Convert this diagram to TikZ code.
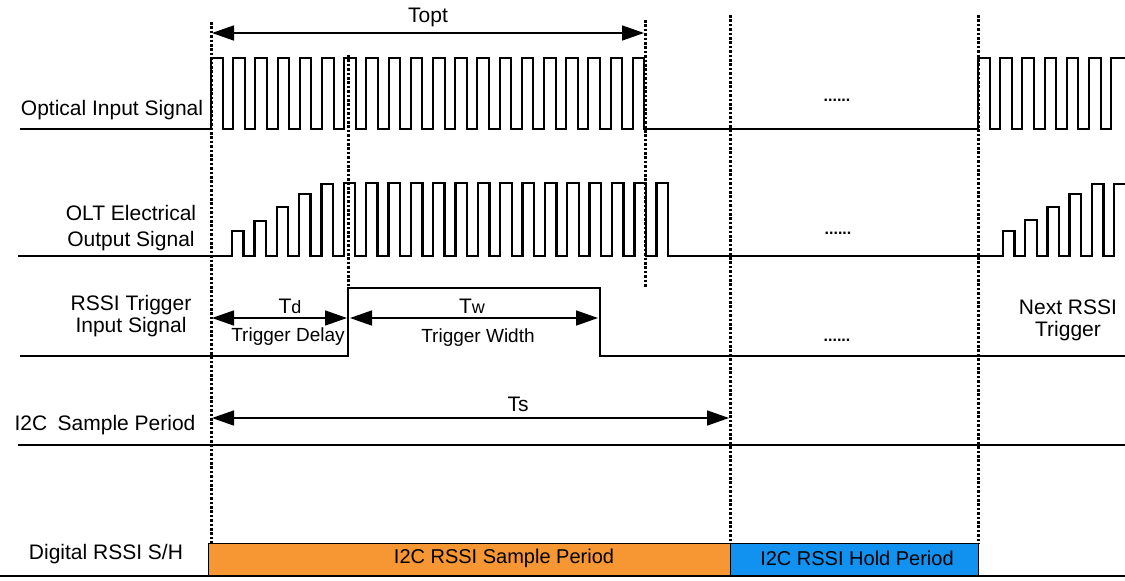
\documentclass[tikz,border=0pt]{standalone}
\usepackage{fontspec}
\setmainfont{Liberation Sans}
\usetikzlibrary{arrows.meta}
\definecolor{sampleorange}{RGB}{247,151,52}
\definecolor{holdblue}{RGB}{18,146,240}

\begin{document}
\begin{tikzpicture}[
  x=0.5pt, y=-0.5pt,
  font=\fontsize{10.5}{13}\selectfont,
  lbl/.style={align=center, inner sep=0pt},
  small/.style={font=\fontsize{9.5}{11}\selectfont},
  sig/.style={line width=1pt, line join=miter},
  rule/.style={line width=0.8pt},
  guide/.style={line width=1.5pt, dash pattern=on 1.3pt off 0.9pt},
  dim/.style={{Triangle[length=11pt,width=7.5pt]}-{Triangle[length=11pt,width=7.5pt]}, line width=0.8pt},
  bar/.style={draw, line width=0.6pt, minimum height=16pt, inner sep=0pt, anchor=south west},
  dots/.style={font=\fontsize{8}{8}\selectfont\bfseries, inner sep=0pt}
]
\useasboundingbox (0,0) rectangle (1125,580);

\draw[guide] (211,22) -- (211,544);
\draw[guide] (348,55) -- (348,288);
\draw[guide] (645,20) -- (645,288);
\draw[guide] (730,15) -- (730,544);
\draw[guide] (978,15) -- (978,544);

\draw[sig] (20,129) -- (211,129)
  \foreach \k in {0,...,19} {-- ({211+22.2*\k},129) -- ++(0,-71) -- ++(11.5,0) -- ++(0,71)}
  -- (978,129)
  \foreach \k in {0,...,5} {-- ({978+22.2*\k},129) -- ++(0,-71) -- ++(11.5,0) -- ++(0,71)}
  -- (1111,129) -- (1111,58) -- (1126,58);

\draw[sig, line width=1.2pt] (18,256) -- (232,256)
  \foreach \k/\h in {0/25,1/35,2/49,3/62,4/72} {-- ({232+22.35*\k},256) -- ++(0,-\h) -- ++(11.5,0) -- ++(0,\h)}
  \foreach \k in {5,...,19} {-- ({232+22.35*\k},256) -- ++(0,-73) -- ++(11.5,0) -- ++(0,73)}
  -- (1003,256)
  \foreach \k/\h in {0/25,1/36,2/49,3/62,4/72} {-- ({1003+22.2*\k},256) -- ++(0,-\h) -- ++(11.5,0) -- ++(0,\h)}
  -- (1114,256) -- (1114,184) -- (1126,184);

\draw[sig] (20,356) -- (348,356) -- (348,288) -- (600,288) -- (600,356) -- (1125,356);
\draw[rule] (18,445) -- (1125,445);
\draw[rule] (0,576) -- (1125,576);

\node[lbl] (optlbl) at (112,110) {Optical Input Signal};
\node[lbl] (oltlbl) at (131,228) {OLT Electrical\\Output Signal};
\node[lbl] (trglbl) at (131,316) {RSSI Trigger\\[-2pt]Input Signal};
\node[lbl] (i2clbl) at (105,425) {I2C\enspace Sample Period};
\node[lbl] (shlbl) at (106,554) {Digital RSSI S/H};
\node[lbl] (nextlbl) at (1068,320) {Next RSSI\\[-2pt]Trigger};

\node[dots] (optdots) at (837,100) {......};
\node[dots] (oltdots) at (838,233) {......};
\node[dots] (trgdots) at (837,340) {......};

\coordinate (topt-l) at (212,33);
\coordinate (topt-r) at (644,33);
\draw[dim] (topt-l) -- (topt-r);
\node[lbl] (topt) at (428,17) {Topt};

\coordinate (td-l) at (212,318);
\coordinate (td-r) at (347,318);
\draw[dim] (td-l) -- (td-r);
\node[lbl] (tdlbl) at (290,306) {T{\small d}};
\node[lbl, small] (tdtxt) at (288,337) {Trigger Delay};

\coordinate (tw-l) at (350,318);
\coordinate (tw-r) at (598,318);
\draw[dim] (tw-l) -- (tw-r);
\node[lbl] (twlbl) at (472,306) {T{\small w}};
\node[lbl, small] (twtxt) at (478,338) {Trigger Width};

\coordinate (ts-l) at (212,418);
\coordinate (ts-r) at (729,418);
\draw[dim] (ts-l) -- (ts-r);
\node[lbl] (tslbl) at (518,404) {Ts};

\node[bar, fill=sampleorange, minimum width=261pt] (sample) at (208,576) {};
\node[bar, fill=holdblue, minimum width=124pt] (hold) at (730,576) {};
\node[lbl, font=\fontsize{10}{12}\selectfont] (sampletxt) at (504,558) {I2C RSSI Sample Period};
\node[lbl, font=\fontsize{10}{12}\selectfont] (holdtxt) at (857,558) {I2C RSSI Hold Period};

\end{tikzpicture}
\end{document}
